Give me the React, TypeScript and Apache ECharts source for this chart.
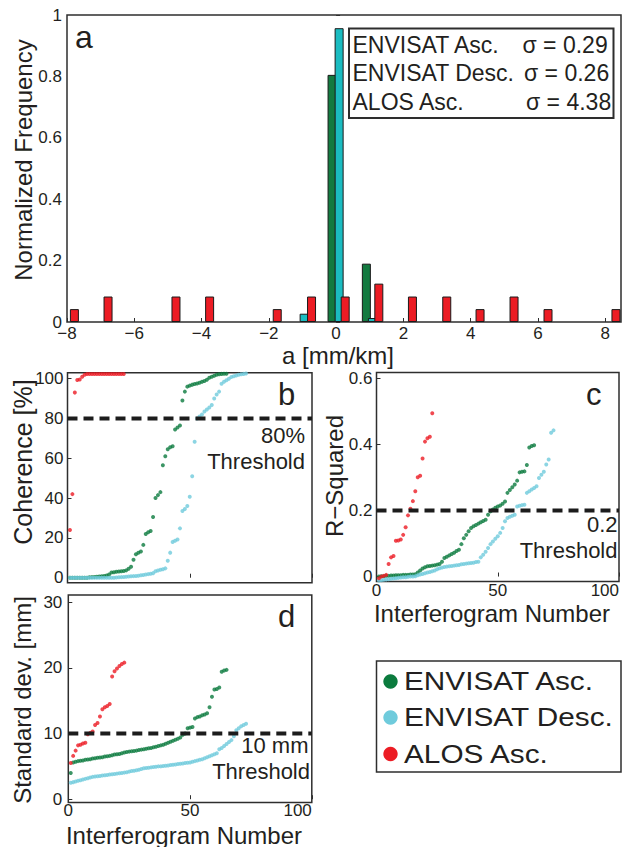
import React, { useEffect, useRef } from 'react';
import * as echarts from 'echarts';

const FONT = '"Liberation Sans", Arial, Helvetica, sans-serif';
const TXT = '#231f20';
const FRAME = '#2e2e2e';
const GREEN = '#0b7b3e';
const CYAN = '#6fcbdc';
const RED = '#ec1c24';
const GREEN_BAR = '#137a40';
const CYAN_BAR = '#1bbcc1';

// ---- Panel a: histogram of a [mm/km] (bin centre, normalized frequency)
const histGreen = [[-0.12, 0.805], [0.9, 0.19]];
const histCyan = [[-0.95, 0.027], [0.09, 0.957], [1.08, 0.013]];
const histRed = [
  [-7.78, 0.042], [-6.78, 0.083], [-4.76, 0.083], [-3.76, 0.083], [-1.75, 0.042],
  [-0.73, 0.083], [0.27, 0.083], [1.27, 0.125], [2.27, 0.083], [3.29, 0.083],
  [4.28, 0.042], [5.29, 0.083], [6.3, 0.042], [8.32, 0.042],
];
const histXTicks = [-8, -6, -4, -2, 0, 2, 4, 6, 8];
const histYTicks = [0, 0.2, 0.4, 0.6, 0.8, 1];
const sigmaRows = [
  ['ENVISAT Asc.', 'σ = 0.29'],
  ['ENVISAT Desc.', 'σ = 0.26'],
  ['ALOS Asc.', 'σ = 4.38'],
];

// ---- Panel b: coherence [%] sorted, by interferogram number
const cohGreen = [0, 0, 0, 0, 0, 0, 0, 0, 0.2, 0.3, 0.4, 0.5, 0.6, 0.7, 0.9, 1.1, 1.6, 2.6, 2.8, 3.0, 3.1, 3.2, 3.4, 3.7, 4.5, 5.5, 9, 11.8, 12.5, 13.2, 16.5, 22, 22.8, 23.5, 30.5, 40, 41.5, 43, 56.5, 61, 64.5, 65.5, 66, 74.5, 75.5, 76.5, 89, 93.5, 96, 96.5, 97, 97.3, 97.6, 98, 98.4, 98.8, 99.5, 100.5, 101, 101.5, 102, 102.2, 102.4, 102.5, 102.5];
const cohCyan = [0, 0, 0, 0, 0, 0, 0, 0, 0, 0, 0, 0, 0, 0, 0, 0, 0, 0, 0, 0.1, 0.2, 0.3, 0.4, 0.5, 0.6, 0.7, 0.8, 0.9, 1.0, 1.2, 1.4, 1.6, 1.8, 2.0, 2.3, 3.3, 3.6, 4.0, 4.3, 4.7, 8.5, 12.6, 18, 18.6, 19.2, 24.8, 33.5, 34.5, 36, 40.7, 51, 68.3, 80, 81, 82, 83.5, 84.5, 85.5, 86.8, 90, 92, 93.5, 97.5, 98.5, 99.2, 100, 100.8, 101.2, 101.6, 102, 102.2, 102.4, 102.6];
const cohRed = [24, 42, 93, 99.3, 99.6, 101, 102, 102.3, 102.3, 102.3, 102.3, 102.3, 102.3, 102.3, 102.3, 102.3, 102.3, 102.3, 102.3, 102.3, 102.3, 102.3, 102.3];
const cohThreshold = 80;
const cohTicks = [0, 20, 40, 60, 80, 100];

// ---- Panel c: R-squared sorted
const rsqGreen = [0, 0.001, 0.001, 0.002, 0.002, 0.003, 0.003, 0.004, 0.004, 0.004, 0.005, 0.005, 0.005, 0.006, 0.006, 0.007, 0.012, 0.018, 0.024, 0.028, 0.031, 0.032, 0.033, 0.034, 0.036, 0.038, 0.045, 0.056, 0.06, 0.064, 0.068, 0.072, 0.077, 0.081, 0.098, 0.116, 0.126, 0.137, 0.147, 0.152, 0.156, 0.16, 0.164, 0.168, 0.172, 0.187, 0.197, 0.203, 0.208, 0.212, 0.215, 0.22, 0.227, 0.253, 0.262, 0.27, 0.278, 0.29, 0.315, 0.317, 0.318, 0.337, 0.39, 0.395, 0.397];
const rsqCyan = [-0.012, -0.011, -0.01, -0.009, -0.008, -0.007, -0.006, -0.005, -0.004, -0.003, -0.002, -0.002, -0.001, 0, 0, 0.001, 0.004, 0.006, 0.008, 0.01, 0.012, 0.014, 0.016, 0.018, 0.022, 0.025, 0.027, 0.029, 0.03, 0.031, 0.032, 0.033, 0.034, 0.035, 0.037, 0.038, 0.039, 0.04, 0.041, 0.042, 0.044, 0.045, 0.058, 0.066, 0.075, 0.086, 0.098, 0.106, 0.114, 0.122, 0.132, 0.147, 0.167, 0.177, 0.181, 0.184, 0.187, 0.212, 0.214, 0.216, 0.217, 0.253, 0.258, 0.263, 0.268, 0.273, 0.298, 0.308, 0.317, 0.339, 0.354, 0.435, 0.442];
const rsqRed = [-0.005, 0, 0.002, 0.005, 0.038, 0.058, 0.062, 0.108, 0.109, 0.112, 0.126, 0.149, 0.185, 0.205, 0.228, 0.258, 0.3, 0.305, 0.357, 0.408, 0.418, 0.423, 0.494];
const rsqThreshold = 0.2;
const rsqTicks = [0, 0.2, 0.4, 0.6];

// ---- Panel d: standard deviation [mm] sorted
const sdGreen = [4.0, 5.6, 5.7, 5.8, 5.85, 5.9, 6.0, 6.05, 6.1, 6.2, 6.25, 6.3, 6.35, 6.4, 6.5, 6.55, 6.6, 6.7, 6.8, 6.85, 6.9, 7.0, 7.1, 7.2, 7.25, 7.3, 7.35, 7.4, 7.5, 7.55, 7.6, 7.7, 7.75, 7.8, 7.9, 8.0, 8.1, 8.2, 8.3, 8.45, 8.6, 8.75, 8.9, 9.05, 9.2, 9.4, 9.8, 10.0, 10.8, 10.9, 11.0, 12.3, 12.5, 12.6, 12.8, 12.9, 13.1, 14.0, 15.6, 16.7, 16.8, 17.0, 19.4, 19.6, 19.7];
const sdCyan = [2.5, 2.6, 2.7, 2.8, 2.9, 3.0, 3.1, 3.2, 3.3, 3.4, 3.45, 3.5, 3.55, 3.6, 3.65, 3.7, 3.75, 3.8, 3.85, 3.9, 3.95, 4.0, 4.05, 4.1, 4.2, 4.3, 4.35, 4.4, 4.5, 4.6, 4.7, 4.75, 4.8, 4.85, 4.9, 4.95, 5.0, 5.0, 5.05, 5.1, 5.15, 5.2, 5.25, 5.3, 5.35, 5.4, 5.45, 5.5, 5.55, 5.6, 5.7, 5.8, 5.9, 6.0, 6.1, 6.25, 6.4, 6.55, 6.7, 6.85, 7.0, 7.6, 7.8, 8.1, 8.4, 8.7, 9.0, 9.6, 10.5, 10.8, 11.1, 11.3, 11.5];
const sdRed = [5.5, 6.6, 7.4, 8.2, 8.3, 8.5, 8.6, 9.9, 10.1, 10.3, 11.3, 11.6, 12.6, 13.7, 14.0, 14.2, 14.5, 18.7, 19.5, 19.9, 20.3, 20.6, 20.8];
const sdThreshold = 10;
const sdTicks = [0, 10, 20, 30];

const numTicks = [0, 50, 100];
const legendRows = [
  { name: 'ENVISAT Asc.', color: GREEN },
  { name: 'ENVISAT Desc.', color: CYAN },
  { name: 'ALOS Asc.', color: RED },
];

const indexed = (arr: number[]) => arr.map((v, i) => [i + 1, v]);
const fmtNum = (v: number) => String(v).replace('-', '\u2212');

function axis(gridIndex: number, min: number, max: number, ticks: number[], opts: any = {}) {
  const { margin = 4, showLabels = true, splitNumber = 5, alignMax } = opts;
  return {
    type: 'value',
    gridIndex,
    min,
    max,
    splitNumber,
    axisLine: { show: false },
    splitLine: { show: false },
    axisTick: {
      show: true,
      inside: true,
      length: 4,
      customValues: ticks,
      lineStyle: { color: FRAME, width: 1 },
    },
    axisLabel: {
      show: showLabels,
      customValues: ticks,
      margin,
      fontSize: 17,
      lineHeight: 14,
      color: TXT,
      fontFamily: FONT,
      alignMaxLabel: alignMax,
      formatter: (v: number) =>
        ticks.some((t) => Math.abs(t - v) < 1e-9) ? fmtNum(v) : '',
    },
  };
}

function scatter(data: number[][], color: string, xi: number) {
  return {
    type: 'scatter',
    xAxisIndex: xi,
    yAxisIndex: xi,
    data,
    symbolSize: 4,
    itemStyle: { color },
    z: 2,
  };
}

function threshold(value: number, xi: number) {
  return {
    type: 'line',
    xAxisIndex: xi,
    yAxisIndex: xi,
    data: [[0, value], [100, value]],
    symbol: 'none',
    silent: true,
    lineStyle: { color: '#1c1c1c', width: 4, type: [10, 6] },
    z: 4,
  };
}

function txt(text: string, x: number, y: number, size: number, align: string, extra: any = {}) {
  return {
    type: 'text',
    x,
    y,
    z: 20,
    ...extra,
    style: {
      text,
      fill: TXT,
      fontSize: size,
      lineHeight: Math.round(size * 0.92),
      fontFamily: FONT,
      align,
      textAlign: align,
      verticalAlign: 'middle',
      textVerticalAlign: 'middle',
    },
  };
}

export default function App() {
  const ref = useRef<HTMLDivElement>(null);

  useEffect(() => {
    document.body.style.margin = '0';
    if (!ref.current) return;
    const chart = echarts.init(ref.current, undefined, { renderer: 'svg' });

    const gridBase = { show: true, borderColor: FRAME, borderWidth: 1.5, backgroundColor: 'transparent', containLabel: false };

    const graphics: any[] = [];
    // axis titles
    graphics.push(txt('Normalized Frequency', 23, 160, 24, 'center', { rotation: Math.PI / 2 }));
    graphics.push(txt('a [mm/km]', 338, 355.5, 24, 'center'));
    graphics.push(txt('Coherence [%]', 22.5, 462, 25, 'center', { rotation: Math.PI / 2 }));
    graphics.push(txt('R\u2212Squared', 334, 476, 24, 'center', { rotation: Math.PI / 2 }));
    graphics.push(txt('Interferogram Number', 492, 613.5, 24, 'center'));
    graphics.push(txt('Standard dev. [mm]', 22.5, 700, 24, 'center', { rotation: Math.PI / 2 }));
    graphics.push(txt('Interferogram Number', 184, 835, 24, 'center'));
    // panel letters
    graphics.push(txt('a', 75, 37, 32, 'left'));
    graphics.push(txt('b', 278, 394, 31, 'left'));
    graphics.push(txt('c', 586, 394, 31, 'left'));
    graphics.push(txt('d', 278, 616, 31, 'left'));
    // threshold notes
    graphics.push(txt('80%', 305, 435.5, 22, 'right'));
    graphics.push(txt('Threshold', 305, 461.5, 22, 'right'));
    graphics.push(txt('0.2', 617.5, 524, 22, 'right'));
    graphics.push(txt('Threshold', 617.5, 550, 22, 'right'));
    graphics.push(txt('10 mm', 308.5, 745.5, 22, 'right'));
    graphics.push(txt('Threshold', 310, 771.5, 22, 'right'));

    // sigma legend box (panel a)
    graphics.push({
      type: 'rect',
      z: 15,
      shape: { x: 349, y: 28.5, width: 264.5, height: 89.5 },
      style: { fill: '#fff', stroke: FRAME, lineWidth: 2 },
    });
    const rowY = [45, 73.3, 101.6];
    const sigX = [522.5, 524, 526];
    sigmaRows.forEach((r, i) => {
      graphics.push(txt(r[0], 352.5, rowY[i], 23, 'left'));
      graphics.push(txt(r[1], sigX[i], rowY[i], 23, 'left'));
    });

    // series legend box (bottom right)
    graphics.push({
      type: 'rect',
      z: 15,
      shape: { x: 376.5, y: 661, width: 244.5, height: 111 },
      style: { fill: '#fff', stroke: FRAME, lineWidth: 1.5 },
    });
    const lgY = [681.5, 717.5, 754];
    legendRows.forEach((r, i) => {
      graphics.push({
        type: 'circle',
        z: 20,
        shape: { cx: 390.5, cy: lgY[i], r: 7.2 },
        style: { fill: r.color },
      });
      graphics.push(txt(r.name, 404, lgY[i], 25, 'left', { scaleX: 1.19 }));
    });

    const option: any = {
      animation: false,
      backgroundColor: '#fff',
      textStyle: { fontFamily: FONT },
      grid: [
        { ...gridBase, left: 67, top: 15, width: 554, height: 307 },
        { ...gridBase, left: 67.5, top: 372.7, width: 244.5, height: 210 },
        { ...gridBase, left: 376.5, top: 372.5, width: 245, height: 209 },
        { ...gridBase, left: 68.3, top: 595, width: 243.5, height: 207.5 },
      ],
      xAxis: [
        axis(0, -8, 8.47, histXTicks, { margin: 4, splitNumber: 8 }),
        axis(1, 0, 100, numTicks, { showLabels: false, splitNumber: 2 }),
        axis(2, 0, 100, numTicks, { margin: 2, splitNumber: 2, alignMax: 'right' }),
        axis(3, 0, 100, numTicks, { margin: 1, splitNumber: 2, alignMax: 'right' }),
      ],
      yAxis: [
        axis(0, 0, 1, histYTicks, { margin: 5 }),
        axis(1, -2.5, 103, cohTicks, { margin: 4 }),
        axis(2, -0.015, 0.617, rsqTicks, { margin: 4, splitNumber: 3 }),
        axis(3, -0.5, 31.1, sdTicks, { margin: 6, splitNumber: 3 }),
      ],
      series: [
        {
          type: 'bar', name: 'ENVISAT Asc.', xAxisIndex: 0, yAxisIndex: 0,
          data: histGreen, barWidth: 9, barGap: '-100%',
          itemStyle: { color: GREEN_BAR, borderColor: '#1a1a1a', borderWidth: 1 }, z: 2,
        },
        {
          type: 'bar', name: 'ENVISAT Desc.', xAxisIndex: 0, yAxisIndex: 0,
          data: histCyan, barWidth: 9, barGap: '-100%',
          itemStyle: { color: CYAN_BAR, borderColor: '#1a1a1a', borderWidth: 1 }, z: 3,
        },
        {
          type: 'bar', name: 'ALOS Asc.', xAxisIndex: 0, yAxisIndex: 0,
          data: histRed, barWidth: 9, barGap: '-100%',
          itemStyle: { color: RED, borderColor: '#1a1a1a', borderWidth: 1 }, z: 4,
        },
        scatter(indexed(cohGreen), GREEN, 1),
        scatter(indexed(cohCyan), CYAN, 1),
        scatter(indexed(cohRed), RED, 1),
        threshold(cohThreshold, 1),
        scatter(indexed(rsqGreen), GREEN, 2),
        scatter(indexed(rsqCyan), CYAN, 2),
        scatter(indexed(rsqRed), RED, 2),
        threshold(rsqThreshold, 2),
        scatter(indexed(sdGreen), GREEN, 3),
        scatter(indexed(sdCyan), CYAN, 3),
        scatter(indexed(sdRed), RED, 3),
        threshold(sdThreshold, 3),
      ],
      graphic: { elements: graphics },
    };

    chart.setOption(option);
    return () => chart.dispose();
  }, []);

  return <div ref={ref} style={{ width: 622, height: 847 }} />;
}
